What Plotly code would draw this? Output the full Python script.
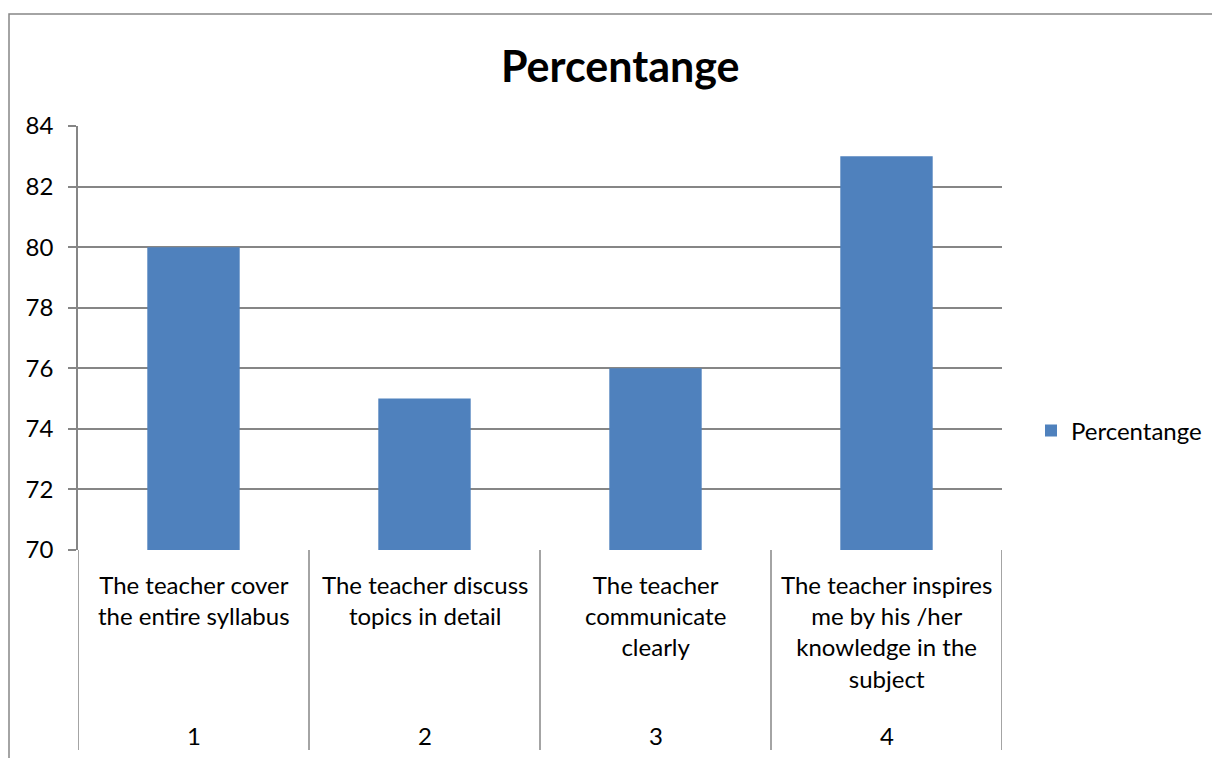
import plotly.graph_objects as go

categories = ["The teacher cover<br>the entire syllabus",
              "The teacher discuss<br>topics in detail",
              "The teacher<br>communicate<br>clearly",
              "The teacher inspires<br>me by his /her<br>knowledge in the<br>subject"]
numbers = ["1", "2", "3", "4"]
values = [80, 75, 76, 83]
series_name = "Percentange"

OFF = 8  # page body margin
W, H = 1220, 758
L, R, T, B = 78 - OFF, 1002 - OFF, 126 - OFF, 550 - OFF
pw, ph = R - L, B - T

def px_x(p):
    return (p - OFF - L) / pw

def px_y(p):
    return (B - (p - OFF)) / ph

FONT = "Lato"
FS = 24
xs = list(range(len(values)))

fig = go.Figure()
fig.add_trace(go.Bar(x=xs, y=values, width=0.4, name=series_name,
                     marker=dict(color="#4F81BD", line=dict(width=0)),
                     showlegend=True))

shapes = []
for i in range(len(values) + 1):
    shapes.append(dict(type="line", xref="x", yref="paper",
                       x0=i - 0.5, x1=i - 0.5, y0=0, y1=px_y(750),
                       line=dict(color="#868686", width=1.5)))
shapes.append(dict(type="rect", xref="paper", yref="paper",
                   x0=px_x(9), x1=px_x(1240), y0=px_y(14), y1=px_y(800),
                   line=dict(color="#868686", width=1.5), layer="below"))

annotations = []
for i, (c, n) in enumerate(zip(categories, numbers)):
    annotations.append(dict(x=i, xref="x", y=px_y(568), yref="paper",
                            text=c, showarrow=False, yanchor="top",
                            font=dict(family=FONT, size=FS, color="#000")))
    annotations.append(dict(x=i, xref="x", y=px_y(735), yref="paper",
                            text=n, showarrow=False, yanchor="middle",
                            font=dict(family=FONT, size=FS, color="#000")))
annotations.append(dict(x=px_x(620), xref="paper", y=px_y(66), yref="paper",
                        text="<b>Percentange</b>", showarrow=False,
                        yanchor="middle",
                        font=dict(family=FONT, size=43, color="#000")))

fig.update_layout(
    width=W, height=H,
    margin=dict(l=L, r=W - R, t=T, b=H - B),
    paper_bgcolor="white", plot_bgcolor="white",
    xaxis=dict(range=[-0.5, 3.5], showticklabels=False, showgrid=False,
               zeroline=False, showline=False, ticks=""),
    yaxis=dict(range=[70, 84], dtick=2, tickmode="linear",
               showgrid=True, gridcolor="#868686", gridwidth=1.5,
               showline=True, linecolor="#868686", linewidth=1.5,
               ticks="outside", ticklen=8, tickcolor="#868686", tickwidth=1.5,
               ticklabelstandoff=10,
               zeroline=False,
               tickfont=dict(family=FONT, size=FS, color="#000")),
    legend=dict(x=px_x(1031), y=px_y(431), xanchor="left", yanchor="middle",
                font=dict(family=FONT, size=FS, color="#000"),
                bgcolor="rgba(0,0,0,0)", itemwidth=30),
    shapes=shapes, annotations=annotations,
)

fig.write_html("out.html")
